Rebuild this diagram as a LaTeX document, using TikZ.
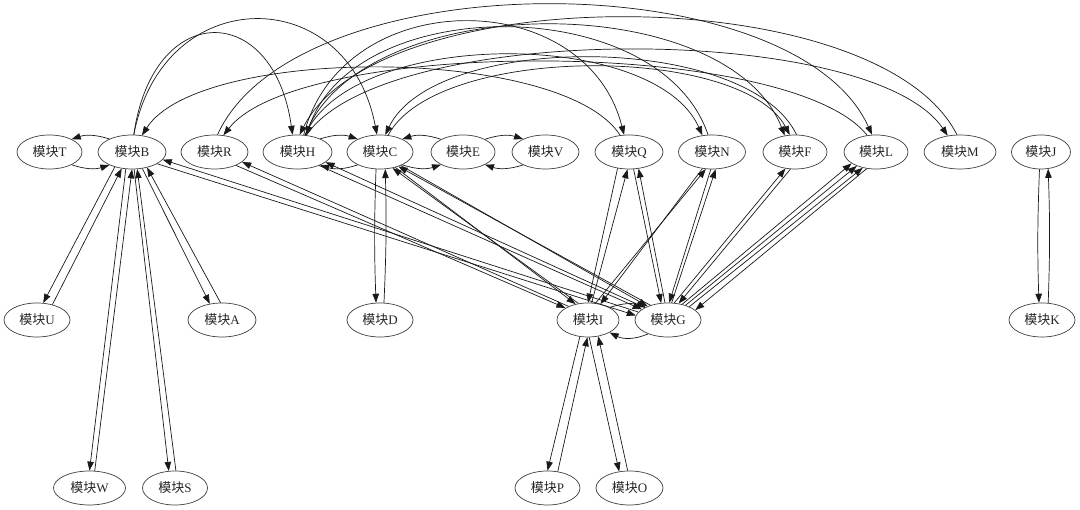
\documentclass[tikz,border=0pt]{standalone}
\usepackage{fontspec}
\setmainfont{Liberation Serif}
\newfontfamily\cjk{Noto Sans CJK SC}
\usetikzlibrary{shapes.geometric,arrows.meta,calc}
\newcommand\mk[1]{{\cjk 模块}#1}
\newcommand\toparc[3]{\draw[edg] let \p1=(#1), \p2=(#2) in (\p1) .. controls ({\x1+0.12*(\x2-\x1)},{374+(136-#3)/0.75}) and ({\x2-0.12*(\x2-\x1)},{374+(136-#3)/0.75}) .. (\p2);}
\begin{document}
\begin{tikzpicture}[x=1pt,y=1pt,
  mod/.style={ellipse, draw=black!75, line width=0.7pt, minimum width=66pt, minimum height=34pt, inner sep=0pt, font=\fontsize{13}{15}\selectfont, text=black!85},
  edg/.style={draw=black!90, line width=0.7pt, -{Triangle[length=9pt,width=6.5pt]}}]
\useasboundingbox[fill=white] (0,0) rectangle (1080,510);
% row 1
\node[mod, minimum width=65pt] (T) at (49.5,358) {\mk{T}};
\node[mod, minimum width=68pt] (B) at (132,358) {\mk{B}};
\node[mod, minimum width=67pt] (R) at (214.5,358) {\mk{R}};
\node[mod, minimum width=69pt] (H) at (297.5,358) {\mk{H}};
\node[mod] (C) at (380,358) {\mk{C}};
\node[mod, minimum width=64pt] (E) at (463,358) {\mk{E}};
\node[mod, minimum width=67pt] (V) at (545.5,358) {\mk{V}};
\node[mod, minimum width=68pt] (Q) at (629,358) {\mk{Q}};
\node[mod, minimum width=67pt] (N) at (712,358) {\mk{N}};
\node[mod, minimum width=64pt] (F) at (795,358) {\mk{F}};
\node[mod, minimum width=64pt] (L) at (876,358) {\mk{L}};
\node[mod, minimum width=72pt] (M) at (960,358) {\mk{M}};
\node[mod, minimum width=59pt] (J) at (1041,358) {\mk{J}};
% row 2
\node[mod] (U) at (37,190) {\mk{U}};
\node[mod, minimum width=68pt] (A) at (222,190) {\mk{A}};
\node[mod] (D) at (380,190) {\mk{D}};
\node[mod, minimum width=62pt] (I) at (588,190) {\mk{I}};
\node[mod] (G) at (668,190) {\mk{G}};
\node[mod] (K) at (1042,190) {\mk{K}};
% row 3
\node[mod, minimum width=72pt] (W) at (89.5,22) {\mk{W}};
\node[mod, minimum width=65pt] (S) at (175,22) {\mk{S}};
\node[mod, minimum width=65pt] (P) at (547.5,22) {\mk{P}};
\node[mod, minimum width=67pt] (O) at (629.5,22) {\mk{O}};
% side-by-side pairs
\draw[edg] (B.150) to[bend right=18] (T.30);
\draw[edg] (T.-30) to[bend right=18] (B.210);
\draw[edg] (H.30) to[bend left=18] (C.150);
\draw[edg] (C.210) to[bend left=18] (H.-30);
\draw[edg] (E.150) to[bend right=18] (C.30);
\draw[edg] (C.-30) to[bend right=18] (E.210);
\draw[edg] (E.30) to[bend left=18] (V.150);
\draw[edg] (V.210) to[bend left=18] (E.-30);
\draw[edg] (I.30) to[bend left=18] (G.150);
\draw[edg] (G.215) to[bend left=25] (I.-30);
% vertical pairs
\draw[edg] (B.221) -- (U.70);
\draw[edg] (U.45) -- (B.238);
\draw[edg] (B.250) -- (W.90);
\draw[edg] (W.73) -- (B.270);
\draw[edg] (B.277) -- (S.110);
\draw[edg] (S.87) -- (B.287);
\draw[edg] (B.302) -- (A.127);
\draw[edg] (A.95) -- (B.314);
\draw[edg] (C.257) to[bend right=2] (D.103);
\draw[edg] (D.77) to[bend right=2] (C.287);
\draw[edg] (I.244) -- (P.90);
\draw[edg] (P.58) -- (I.268);
\draw[edg] (I.274) -- (O.122);
\draw[edg] (O.96) -- (I.302);
\draw[edg] (J.265) to[bend right=2] (K.100);
\draw[edg] (K.70) to[bend right=2] (J.293);
% diagonals from the left
\draw[edg] (B.-25) -- (G.172);
\draw[edg] (G.165) -- (B.-14);
\draw[edg] (R.-32) -- (I.152);
\draw[edg] (I.145) -- (R.-20);
\draw[edg] (H.-32) -- (G.158);
\draw[edg] (G.152) -- (H.-20);
\draw[edg] (C.-45) -- (I.128);
\draw[edg] (I.120) -- (C.-52);
\draw[edg] (C.-33) -- (G.146);
\draw[edg] (G.140) -- (C.-38);
% diagonals from the right
\draw[edg] (Q.235) -- (I.90);
\draw[edg] (I.78) -- (Q.265);
\draw[edg] (Q.285) -- (G.112);
\draw[edg] (G.100) -- (Q.300);
\draw[edg] (N.240) -- (I.52);
\draw[edg] (I.66) -- (N.250);
\draw[edg] (N.266) -- (G.86);
\draw[edg] (G.78) -- (N.282);
\draw[edg] (G.70) -- (F.240);
\draw[edg] (F.255) -- (G.57);
\draw[edg] (G.48) -- (L.205);
\draw[edg] (G.40) -- (L.216);
\draw[edg] (G.32) -- (L.230);
\draw[edg] (L.241) -- (G.20);
% arcs over the top
\toparc{B.84}{H.106}{34}
\toparc{B.84}{C.100}{20}
\toparc{Q.118}{B.59}{68}
\toparc{L.118}{R.62}{62}
\toparc{R.80}{L.103}{5}
\toparc{M.100}{H.83}{18}
\toparc{N.103}{H.62}{28}
\toparc{H.70}{Q.106}{22}
\toparc{H.66}{F.122}{25}
\toparc{H.62}{M.127}{50}
\toparc{H.66}{N.120}{55}
\toparc{C.64}{F.107}{67}
\toparc{F.85}{C.73}{58}
\end{tikzpicture}
\end{document}
